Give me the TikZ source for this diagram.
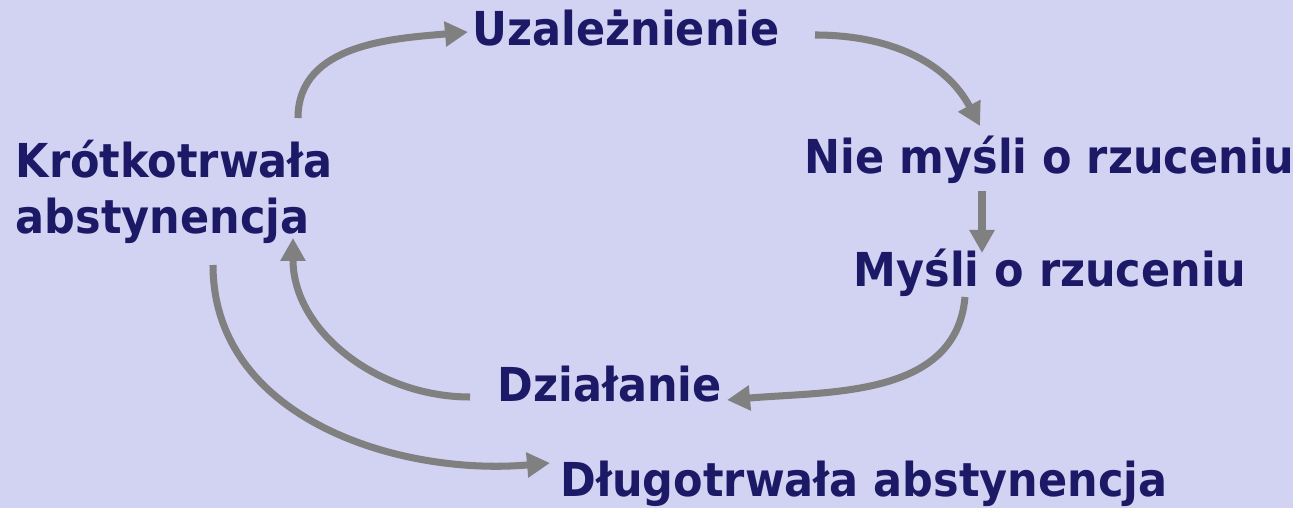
\documentclass[tikz,border=0pt]{standalone}
\usepackage{fontspec}
\setmainfont{DejaVu Sans}[FakeStretch=0.92]
\usetikzlibrary{arrows.meta}
\definecolor{tlo}{RGB}{210,210,243}
\definecolor{granat}{RGB}{28,26,102}
\definecolor{szary}{RGB}{128,128,128}

\begin{document}
\begin{tikzpicture}[
    etap/.style={anchor=base west, inner sep=0pt, text=granat,
      font=\fontsize{13.3}{16.2}\selectfont\bfseries},
    strzalka/.style={szary, line width=2pt, -{Triangle[length=2.3mm,width=2.4mm]}}
  ]
    % Background
    \fill[tlo] (0,0) rectangle (12.93,5.08);
    \useasboundingbox (0,0) rectangle (12.93,5.08);

    % Stages
    \node[etap] (uzal) at (4.72,4.62) {Uzależnienie};
    \node[etap] (nie) at (8.04,3.34) {Nie myśli o rzuceniu};
    \node[etap] (mysli) at (8.53,2.21) {Myśli o rzuceniu};
    \node[etap] (dzial) at (4.97,1.06) {Działanie};
    \node[etap, align=left] (krotko) at (0.15,2.74) {Krótkotrwała\\abstynencja};
    \node[etap] (dlugo) at (5.60,0.11) {Długotrwała abstynencja};

    % Cycle
    \draw[strzalka] ([shift={(2.83,1.16)}]krotko.base west) to[out=90,in=185] ([shift={(-0.04,0.14)}]uzal.base west);
    \draw[strzalka] ([shift={(3.43,0.11)}]uzal.base west) to[out=0,in=118] ([shift={(1.76,0.48)}]nie.base west);
    \draw[strzalka] ([shift={(1.78,-0.17)}]nie.base west) -- ([shift={(1.29,0.34)}]mysli.base west);
    \draw[strzalka] ([shift={(1.12,-0.10)}]mysli.base west) to[out=-95,in=5] ([shift={(2.30,0.02)}]dzial.base west);
    \draw[strzalka] ([shift={(-0.27,0.05)}]dzial.base west) to[out=180,in=-90] ([shift={(2.78,-0.04)}]krotko.base west);

    % Exit
    \draw[strzalka] ([shift={(1.98,-0.31)}]krotko.base west) to[out=-90,in=185] ([shift={(-0.10,0.34)}]dlugo.base west);
\end{tikzpicture}
\end{document}
